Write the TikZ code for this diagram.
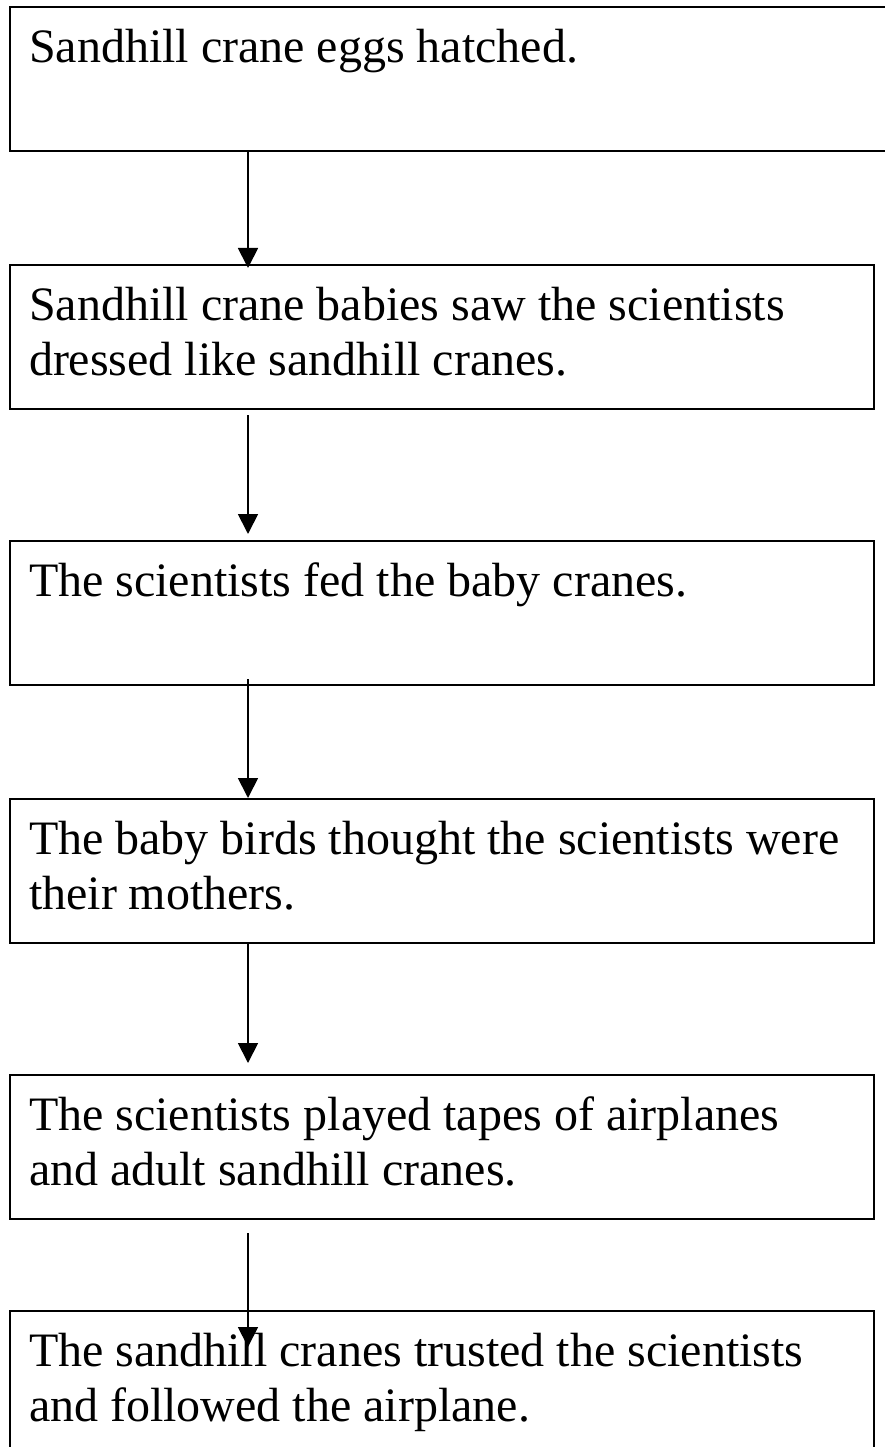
\documentclass[tikz,border=0pt]{standalone}
\usepackage{fontspec}
\setmainfont{Liberation Serif}
\usetikzlibrary{arrows.meta}
\begin{document}
\begin{tikzpicture}[x=1pt,y=-1pt,
  box/.style={draw,line width=2pt,anchor=north west,inner xsep=19.5pt,inner ysep=16.4pt,
    font=\fontsize{48}{55.2}\selectfont},
  arr/.style={line width=1.8pt,-{Triangle[width=20pt,length=20pt]}}]
\useasboundingbox (0,0) rectangle (884,1447);
\def\stepbox#1#2#3#4{
\node [box] (#1) at (8.5,#2) {\parbox[t][111.2pt][t]{#3pt}{\raggedright\strut #4}};
}
\stepbox{hatch}{6}{845}{Sandhill crane eggs hatched.}
\stepbox{saw}{264}{825.5}{Sandhill crane babies saw the scientists\\dressed like sandhill cranes.}
\stepbox{fed}{540}{825.5}{The scientists fed the baby cranes.}
\stepbox{mothers}{798}{825.5}{The baby birds thought the scientists were\\their mothers.}
\stepbox{tapes}{1074}{825.5}{The scientists played tapes of airplanes\\and adult sandhill cranes.}
\stepbox{trust}{1310}{825.5}{The sandhill cranes trusted the scientists\\and followed the airplane.}
\coordinate (ax) at (248,0);
\draw [arr,shorten >=-4pt] (hatch.south -| ax) -- (saw.north -| ax);
\draw [arr,shorten <=5pt,shorten >=6pt] (saw.south -| ax) -- (fed.north -| ax);
\draw [arr,shorten <=-7pt] (fed.south -| ax) -- (mothers.north -| ax);
\draw [arr,shorten >=11pt] (mothers.south -| ax) -- (tapes.north -| ax);
\draw [arr,shorten <=13pt,shorten >=-37pt] (tapes.south -| ax) -- (trust.north -| ax);
\end{tikzpicture}
\end{document}
